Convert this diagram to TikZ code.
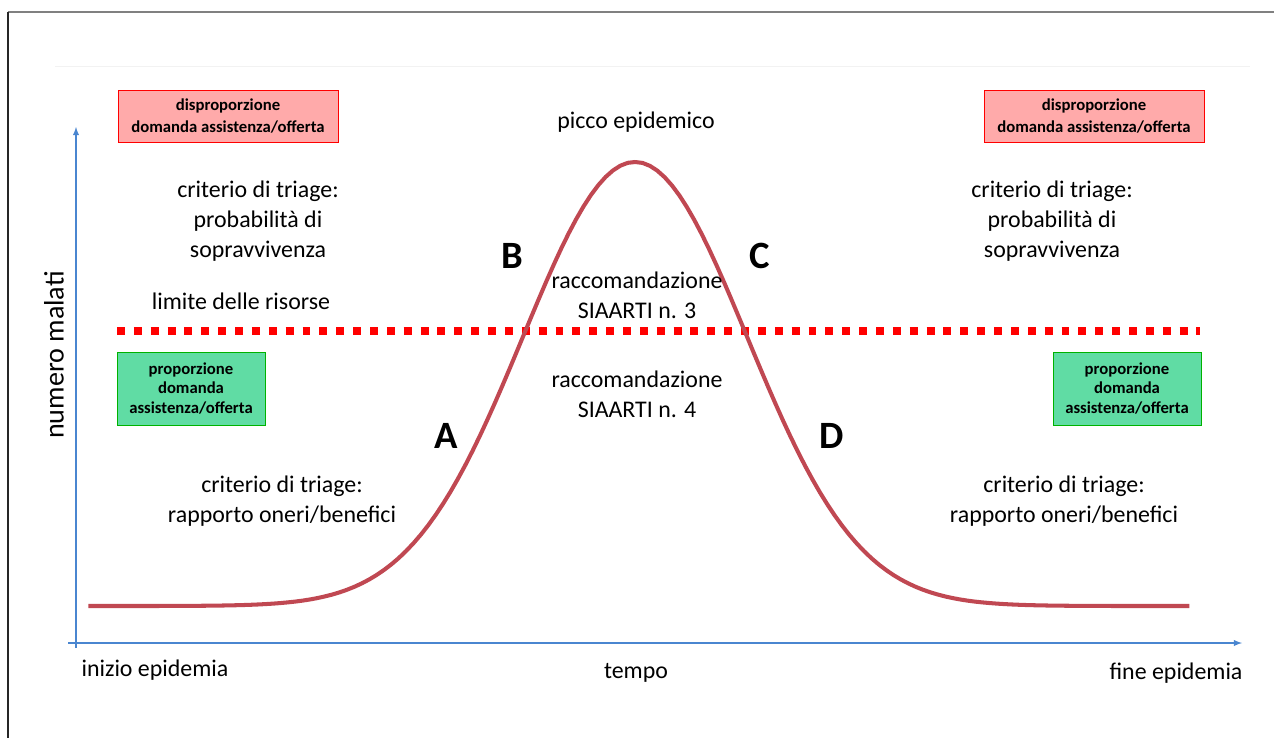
\documentclass[tikz,border=0pt]{standalone}
\usepackage{fontspec}
\setmainfont{Carlito}
\usetikzlibrary{arrows}
\definecolor{curvered}{RGB}{192,72,82}
\definecolor{axisblue}{RGB}{74,134,208}
\definecolor{boxpink}{RGB}{255,170,170}
\definecolor{boxgreen}{RGB}{96,220,164}
\tikzstyle{label}=[font=\fontsize{13.6}{17}\selectfont, align=center, inner sep=0pt]
\tikzstyle{letter}=[font=\fontsize{22}{26}\selectfont\bfseries, inner sep=0pt]
\tikzstyle{redbox}=[draw=red, fill=boxpink, font=\fontsize{9.5}{13}\selectfont\bfseries, align=center, minimum width=4.4cm, minimum height=1.04cm, inner sep=0pt]
\tikzstyle{greenbox}=[draw=green!70!black, fill=boxgreen, font=\fontsize{9.5}{11}\selectfont\bfseries, align=center, minimum width=2.96cm, minimum height=1.46cm, inner sep=0pt]
\tikzstyle{axis}=[draw=axisblue, line width=0.6pt, -latex]
\tikzstyle{limit}=[draw=red, line width=4.5pt, dash pattern=on 4.5pt off 5.1pt]
\tikzstyle{curve}=[draw=curvered, line width=2.3pt, line join=round]

\begin{document}
\begin{tikzpicture}[x=0.02cm, y=-0.02cm]
	\useasboundingbox (0,0) rectangle (1274,738);
	% First the frame of the slide
	\draw[black!50, line width=1.2pt] (8,12) -- (1274,12);
	\draw[black!85, line width=0.8pt] (8,12) -- (8,738);
	\draw[black!5] (55,66) -- (1250,66);

	% Axes
	\coordinate (origin) at (76,648);
	\coordinate (ytop) at (76,127);
	\coordinate (xstart) at (68,643);
	\coordinate (xend) at (1242,643);
	\draw[axis] (origin) -- (ytop);
	\draw[axis] (xstart) -- (xend);

	% Limit of the resources and the epidemic curve
	\draw[limit] (117,331) -- (1200,331);
	\draw[curve] plot[domain=-4.88:4.95, samples=150] ({635+112*\x},{606-444*exp(-0.5*\x*\x)});

	% Boxes
	\foreach \pos/\name in {{(228,116)/dispL}, {(1094,116)/dispR}}
	\node[redbox] (\name) at \pos {disproporzione\\domanda assistenza/offerta};
	\foreach \pos/\name in {{(191,388.5)/propL}, {(1127,388.5)/propR}}
	\node[greenbox] (\name) at \pos {proporzione\\domanda\\assistenza/offerta};

	% Labels
	\foreach \pos/\name/\txt in {{(636,122)/peak/{picco epidemico}},
			{(258,221)/survL/{criterio di triage:\\probabilità di\\sopravvivenza}},
			{(1052,221)/survR/{criterio di triage:\\probabilità di\\sopravvivenza}},
			{(241,301)/limit/{limite delle risorse}},
			{(637,295)/racc3/{raccomandazione\\SIAARTI n. 3}},
			{(637,394)/racc4/{raccomandazione\\SIAARTI n. 4}},
			{(282,501)/burdL/{criterio di triage:\\rapporto oneri/benefici}},
			{(1064,501)/burdR/{criterio di triage:\\rapporto oneri/benefici}},
			{(155,670)/start/{inizio epidemia}},
			{(636,673)/time/{tempo}},
			{(1176,673)/end/{fine epidemia}}}
	\node[label] (\name) at \pos {\txt};
	\node[label, font=\fontsize{16}{19}\selectfont, rotate=90] (ylabel) at (54,355) {numero malati};

	% Phases of the curve
	\foreach \pos/\name in {{(446,436)/A}, {(512,256)/B}, {(760,256)/C}, {(832,436)/D}}
	\node[letter] (\name) at \pos {\name};
\end{tikzpicture}
\end{document}
